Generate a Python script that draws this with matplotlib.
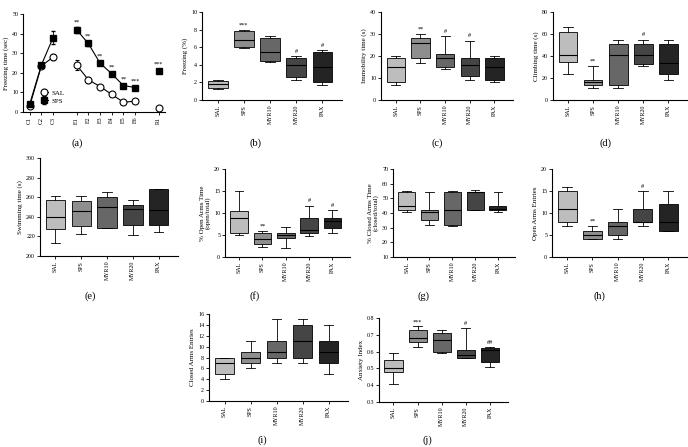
import matplotlib
matplotlib.use("Agg")
import matplotlib.pyplot as plt

plt.rcParams['font.family'] = ['Liberation Serif', 'DejaVu Serif']

groups = ['SAL', 'SPS', 'MYR10', 'MYR20', 'PAX']
box_colors = ['#bdbdbd', '#8e8e8e', '#676767', '#454545', '#242424']

# panel (a): freezing time course
time_labels = ['C1', 'C2', 'C3', 'E1', 'E2', 'E3', 'E4', 'E5', 'E6', 'R1']
time_pos = [1, 2, 3, 5, 6, 7, 8, 9, 10, 12]
sal_mean = [3, 23.5, 28, 24, 16.5, 13, 9, 5, 5.5, 2]
sal_err = [0.8, 1.0, 1.5, 2.5, 1.5, 1.0, 0.8, 0.6, 0.6, 0.4]
sps_mean = [4, 24, 38, 42, 35, 25, 19.5, 13.5, 12.5, 21]
sps_err = [1.0, 1.0, 3.5, 1.5, 1.2, 1.2, 1.0, 1.0, 0.8, 1.0]
sps_marks = ['', '', '', '**', '**', '**', '**', '**', '***', '***']
segments = [(0, 3), (3, 9), (9, 10)]

# box panels: (whislo, q1, med, q3, whishi) per group
freezing = [(1.3, 1.4, 1.8, 2.2, 2.3), (5.9, 6.0, 6.8, 7.8, 8.0), (4.3, 4.4, 5.4, 7.0, 7.3),
            (2.3, 2.6, 4.0, 4.8, 5.0), (1.7, 2.0, 3.7, 5.4, 5.7)]
freezing_marks = ['', '***', '', '#', '#']
immobility = [(7, 8, 15, 19, 20), (17, 19, 26, 28, 30), (14, 15, 19, 21, 29),
              (9, 11, 16, 19, 27), (8, 9, 15, 19, 20)]
immobility_marks = ['', '**', '#', '#', '']
climbing = [(24, 35, 41, 62, 66), (11, 14, 16, 18, 31), (11, 14, 41, 51, 55),
            (31, 33, 41, 51, 55), (18, 24, 34, 51, 55)]
climbing_marks = ['', '**', '', '#', '']
swimming = [(213, 228, 240, 257, 261), (222, 231, 246, 256, 261), (229, 229, 250, 260, 265),
            (221, 232, 248, 252, 257), (224, 232, 247, 268, 268)]
swimming_marks = ['', '', '', '', '']
open_time = [(5.1, 5.5, 8.8, 10.5, 15), (2.2, 3.0, 4.0, 5.5, 6.0), (2.1, 4.3, 5.0, 5.5, 6.8),
             (4.8, 5.5, 6.2, 8.9, 11.7), (5.5, 6.5, 8.2, 8.9, 10.7)]
open_time_marks = ['', '**', '', '#', '#']
closed_time = [(41, 42, 45, 54, 55), (32, 35, 41, 42, 54), (31, 32, 42, 54, 55),
               (42, 42, 54, 54, 55.5), (41, 42, 43, 45, 54)]
closed_time_marks = ['', '', '', '', '']
open_entries = [(7, 8, 11, 15, 16), (4, 4, 5, 6, 7), (4, 5, 7, 8, 11),
                (7, 8, 8, 11, 15), (6, 6, 8, 12, 15)]
open_entries_marks = ['', '**', '', '#', '']
closed_entries = [(4, 5, 7, 8, 8), (6, 7, 8, 9, 11), (7, 8, 9, 11, 15),
                  (7, 8, 11, 14, 15), (5, 7, 9, 11, 14)]
closed_entries_marks = ['', '', '', '', '']
anxiety = [(0.41, 0.48, 0.50, 0.55, 0.59), (0.63, 0.66, 0.68, 0.73, 0.75), (0.59, 0.60, 0.67, 0.71, 0.73),
           (0.56, 0.56, 0.58, 0.61, 0.74), (0.51, 0.54, 0.61, 0.62, 0.63)]
anxiety_marks = ['', '***', '', '#', '##']

TICK = 4.3
LAB = 5.0

fig = plt.figure(figsize=(6.88, 4.47), dpi=100)


def px_axes(x0, x1, ytop, ybot):
    W, H = 688.0, 447.0
    return fig.add_axes([x0 / W, 1 - ybot / H, (x1 - x0) / W, (ybot - ytop) / H])


def style(ax):
    for s in ['top', 'right']:
        ax.spines[s].set_visible(False)
    for s in ['left', 'bottom']:
        ax.spines[s].set_linewidth(0.8)
    ax.tick_params(labelsize=TICK, width=0.6, length=2, pad=1.5)


def box_panel(ax, data, marks, ylim, yticks, ylabel, off):
    stats = [dict(whislo=d[0], q1=d[1], med=d[2], q3=d[3], whishi=d[4], fliers=[]) for d in data]
    bp = ax.bxp(stats, positions=range(1, 6), widths=0.75, patch_artist=True,
                showfliers=False,
                boxprops=dict(linewidth=0.6, edgecolor='black'),
                medianprops=dict(color='black', linewidth=0.8),
                whiskerprops=dict(linewidth=0.6), capprops=dict(linewidth=0.6))
    for patch, c in zip(bp['boxes'], box_colors):
        patch.set_facecolor(c)
    for i, (d, m) in enumerate(zip(data, marks)):
        if m:
            ax.text(i + 1, d[4] + off, m, ha='center', va='bottom', fontsize=4.5)
    ax.set_xlim(0.4, 5.75)
    ax.set_ylim(*ylim)
    ax.set_yticks(yticks)
    ax.set_xticks(range(1, 6))
    ax.set_xticklabels(groups, rotation=90)
    ax.set_ylabel(ylabel, fontsize=LAB, labelpad=2)
    style(ax)


# (a)
ax = px_axes(23, 165, 14, 112)
for a, b in segments:
    ax.errorbar(time_pos[a:b], sal_mean[a:b], yerr=sal_err[a:b], color='black', lw=0.8,
                marker='o', ms=5, mfc='white', mec='black', mew=0.8, capsize=1.5, elinewidth=0.6,
                label='SAL' if a == 0 else None, zorder=3)
    ax.errorbar(time_pos[a:b], sps_mean[a:b], yerr=sps_err[a:b], color='black', lw=0.8,
                marker='s', ms=4.5, mfc='black', mec='black', capsize=1.5, elinewidth=0.6,
                label='SPS' if a == 0 else None, zorder=3)
for p, m, e, s in zip(time_pos, sps_mean, sps_err, sps_marks):
    if s:
        ax.text(p, m + e + 1, s, ha='center', va='bottom', fontsize=4.5)
ax.set_xlim(0.43, 12.55)
ax.set_ylim(0, 50)
ax.set_yticks(range(0, 51, 10))
ax.set_xticks(time_pos)
ax.set_xticklabels(time_labels, rotation=90)
ax.set_ylabel('Freezing time (sec)', fontsize=LAB, labelpad=2)
ax.legend(loc='lower left', bbox_to_anchor=(0.08, 0.02), frameon=False, fontsize=5,
          handlelength=1.0, handletextpad=0.5, labelspacing=0.3)
style(ax)

box_panel(px_axes(202, 342, 12, 100), freezing, freezing_marks, (0, 10), range(0, 11, 2), 'Freezing (%)', 0.25)
box_panel(px_axes(381, 513, 12, 100), immobility, immobility_marks, (0, 40), range(0, 41, 10), 'Immobility time (s)', 1.0)
box_panel(px_axes(553, 687, 12, 100), climbing, climbing_marks, (0, 80), range(0, 81, 20), 'Climbing time (s)', 2.0)
box_panel(px_axes(40, 178, 158, 256), swimming, swimming_marks, (200, 300), range(200, 301, 20), 'Swimming time (s)', 2.0)
box_panel(px_axes(225, 350, 169, 257), open_time, open_time_marks, (0, 20), range(0, 21, 5),
          '% Open Arms Time\n(open/total)', 0.5)
box_panel(px_axes(393, 515, 169, 257), closed_time, closed_time_marks, (10, 70), range(10, 71, 10),
          '% Closed Arms Time\n(closed/total)', 1.0)
box_panel(px_axes(552, 687, 169, 257), open_entries, open_entries_marks, (0, 20), range(0, 21, 5),
          'Open Arms Entries', 0.5)
box_panel(px_axes(209, 348, 314, 401), closed_entries, closed_entries_marks, (0, 16), range(0, 17, 2),
          'Closed Arms Entries', 0.4)
box_panel(px_axes(379, 508, 318, 402), anxiety, anxiety_marks, (0.3, 0.8), [0.3, 0.4, 0.5, 0.6, 0.7, 0.8],
          'Anxiety Index', 0.01)

panel_labels = [('(a)', 77, 143), ('(b)', 255, 143), ('(c)', 437, 143), ('(d)', 605, 143),
                ('(e)', 90, 296), ('(f)', 255, 296), ('(g)', 423, 296), ('(h)', 599, 296),
                ('(i)', 262, 440), ('(j)', 427, 440)]
for t, x, y in panel_labels:
    fig.text(x / 688, 1 - y / 447, t, ha='center', va='center', fontsize=7.5)

fig.savefig('out.png', dpi=100)
